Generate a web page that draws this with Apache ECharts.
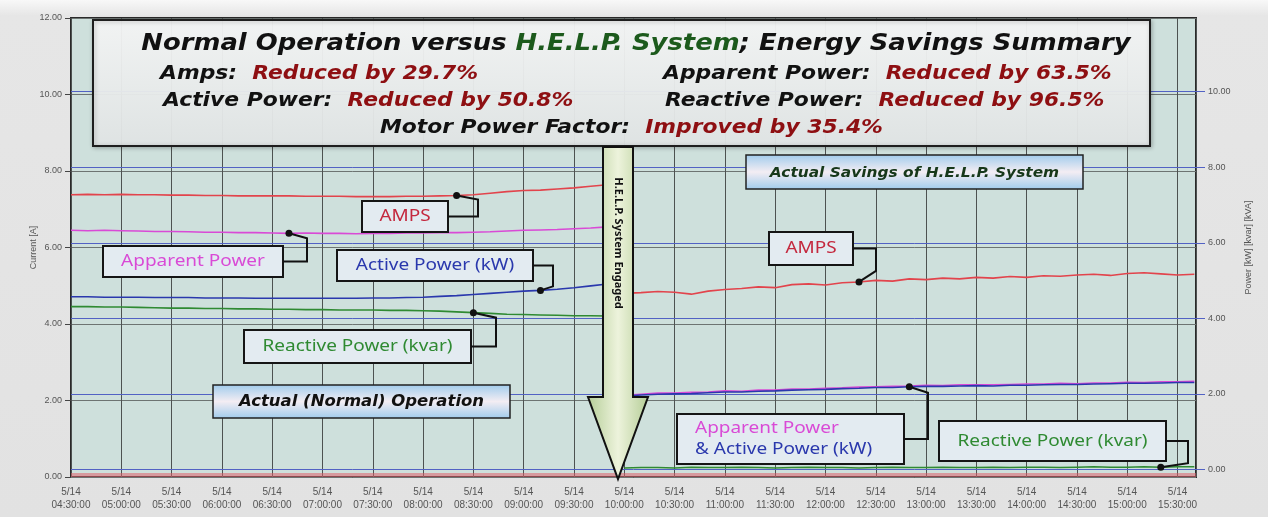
<!DOCTYPE html>
<html>
<head>
<meta charset="utf-8">
<title>H.E.L.P. System - Energy Savings</title>
<style>
  html, body { margin: 0; padding: 0; background: #e4e4e4; }
  #chart { width: 1268px; height: 517px; }
</style>
</head>
<body>
<div id="chart"></div>
<script src="https://cdn.jsdelivr.net/npm/echarts@6/dist/echarts.min.js"></script>
<script>
// samples every 10 minutes, 5/14
const beforeStart = '04:30';   // normal operation
const afterStart = '10:00';    // H.E.L.P. engaged
const stepMin = 10;

// Current [A] (left axis)
const ampsBefore = [7.38, 7.39, 7.38, 7.39, 7.38, 7.38, 7.37, 7.37, 7.36, 7.36,
  7.35, 7.35, 7.35, 7.35, 7.34, 7.34, 7.34, 7.33, 7.33, 7.33,
  7.34, 7.34, 7.35, 7.36, 7.38, 7.42, 7.46, 7.49, 7.50, 7.53,
  7.56, 7.60, 7.64];
const ampsAfter = [4.80, 4.82, 4.85, 4.83, 4.78, 4.86, 4.90, 4.93, 4.97, 4.95,
  5.03, 5.05, 5.02, 5.08, 5.10, 5.14, 5.12, 5.18, 5.16, 5.20,
  5.18, 5.22, 5.20, 5.24, 5.22, 5.26, 5.25, 5.28, 5.30, 5.27,
  5.32, 5.34, 5.31, 5.28, 5.30];

// Power [kW] [kvar] [kVA] (right axis)
const apparentBefore = [6.33, 6.32, 6.33, 6.32, 6.31, 6.30, 6.30, 6.29, 6.28, 6.28,
  6.27, 6.27, 6.26, 6.25, 6.26, 6.25, 6.25, 6.24, 6.25, 6.25,
  6.26, 6.26, 6.27, 6.27, 6.28, 6.29, 6.31, 6.33, 6.34, 6.35,
  6.37, 6.39, 6.42];
const activeBefore = [4.57, 4.57, 4.56, 4.56, 4.56, 4.55, 4.55, 4.55, 4.54, 4.54,
  4.54, 4.53, 4.53, 4.53, 4.53, 4.53, 4.53, 4.53, 4.54, 4.54,
  4.55, 4.56, 4.58, 4.60, 4.63, 4.66, 4.69, 4.72, 4.74, 4.77,
  4.81, 4.86, 4.91];
const reactiveBefore = [4.31, 4.31, 4.30, 4.30, 4.29, 4.28, 4.27, 4.27, 4.26, 4.26,
  4.25, 4.25, 4.24, 4.24, 4.23, 4.23, 4.22, 4.22, 4.22, 4.21,
  4.21, 4.20, 4.19, 4.17, 4.15, 4.13, 4.11, 4.10, 4.09, 4.08,
  4.07, 4.07, 4.06];
const apparentAfter = [1.96, 1.99, 2.02, 2.02, 2.04, 2.05, 2.08, 2.07, 2.10, 2.10,
  2.13, 2.13, 2.15, 2.16, 2.18, 2.19, 2.20, 2.21, 2.23, 2.22,
  2.24, 2.24, 2.24, 2.25, 2.26, 2.26, 2.28, 2.27, 2.29, 2.29,
  2.31, 2.30, 2.32, 2.32, 2.33];
const activeAfter = [1.94, 1.97, 1.99, 2.00, 2.01, 2.03, 2.05, 2.05, 2.07, 2.08,
  2.10, 2.11, 2.12, 2.14, 2.15, 2.17, 2.17, 2.19, 2.20, 2.20,
  2.21, 2.22, 2.21, 2.23, 2.23, 2.24, 2.25, 2.25, 2.26, 2.27,
  2.28, 2.28, 2.29, 2.30, 2.30];
const reactiveAfter = [0.04, 0.05, 0.05, 0.04, 0.06, 0.05, 0.05, 0.06, 0.05, 0.04,
  0.05, 0.06, 0.05, 0.05, 0.04, 0.05, 0.06, 0.05, 0.05, 0.06,
  0.05, 0.05, 0.06, 0.05, 0.06, 0.06, 0.05, 0.06, 0.07, 0.06,
  0.06, 0.07, 0.06, 0.07, 0.07];

const leftTicks = [0, 2, 4, 6, 8, 10, 12];
const rightTicks = [0, 2, 4, 6, 8, 10];

const savings = [
  ['Amps:', 'Reduced by 29.7%'],
  ['Apparent Power:', 'Reduced by 63.5%'],
  ['Active Power:', 'Reduced by 50.8%'],
  ['Reactive Power:', 'Reduced by 96.5%'],
  ['Motor Power Factor:', 'Improved by 35.4%']
];

// minutes since midnight
function mins(t) {
  const p = t.split(':');
  return +p[0] * 60 + +p[1];
}
function pair(start, vals) {
  const s = mins(start);
  return vals.map((v, i) => [s + i * stepMin, v]);
}
function hhmm(m) {
  const h = Math.floor(m / 60), mm = m % 60;
  return (h < 10 ? '0' : '') + h + ':' + (mm < 10 ? '0' : '') + mm;
}

const RED = '#e2444c', MAG = '#d94ad6', BLUE = '#2a38ad', GREEN = '#2f8a32';

function line(name, data, color, yIdx) {
  return {
    name: name, type: 'line', yAxisIndex: yIdx, data: data,
    showSymbol: false, symbol: 'none', silent: true,
    lineStyle: { color: color, width: 1.6 }, z: 5
  };
}

const series = [
  line('AMPS', pair(beforeStart, ampsBefore), RED, 0),
  line('AMPS after', pair(afterStart, ampsAfter), RED, 0),
  line('Apparent Power', pair(beforeStart, apparentBefore), MAG, 1),
  line('Active Power', pair(beforeStart, activeBefore), BLUE, 1),
  line('Reactive Power', pair(beforeStart, reactiveBefore), GREEN, 1),
  line('Apparent Power after', pair(afterStart, apparentAfter), MAG, 1),
  line('Active Power after', pair(afterStart, activeAfter), BLUE, 1),
  line('Reactive Power after', pair(afterStart, reactiveAfter), GREEN, 1)
];
// pink band along zero current
series[0].markLine = {
  silent: true, symbol: 'none', label: { show: false },
  lineStyle: { color: 'rgba(222,96,108,0.55)', width: 4, type: 'solid' },
  data: [{ yAxis: 0.07 }]
};
// blue gridlines of the power axis
series[7].markLine = {
  silent: true, symbol: 'none', label: { show: false },
  lineStyle: { color: '#5262c4', width: 1, type: 'solid' },
  data: rightTicks.map(v => ({ yAxis: v }))
};

const option = {
  animation: false,
  backgroundColor: {
    type: 'linear', x: 0, y: 0, x2: 0, y2: 1,
    colorStops: [{ offset: 0, color: '#f8f8f8' }, { offset: 0.03, color: '#e6e6e6' }, { offset: 1, color: '#e2e2e2' }]
  },
  grid: {
    left: 71, right: 72, top: 18, bottom: 40,
    show: true, backgroundColor: '#cee0dc', borderColor: '#2a2a2a', borderWidth: 2
  },
  xAxis: {
    type: 'value',
    min: mins('04:30'), max: mins('15:41'), interval: 30,
    axisLine: { show: false },
    axisTick: { show: false },
    axisLabel: {
      fontFamily: 'Liberation Sans Narrow, Liberation Sans, sans-serif',
      fontSize: 10, color: '#555', lineHeight: 13, margin: 9,
      showMaxLabel: false,
      formatter: v => '5/14\n' + hhmm(v) + ':00'
    },
    splitLine: { show: true, lineStyle: { color: '#4d5251', width: 1 } }
  },
  yAxis: [{
    type: 'value', min: 0, max: 12, interval: 2,
    name: 'Current [A]', nameLocation: 'middle', nameGap: 33, nameRotate: 90, nameMoveOverlap: false,
    nameTextStyle: { fontFamily: 'Liberation Sans', fontSize: 9, color: '#555' },
    axisLine: { show: false },
    axisTick: { show: true, length: 6, lineStyle: { color: '#444' } },
    axisLabel: { fontFamily: 'Liberation Sans', fontSize: 9, color: '#555', margin: 9,
      formatter: v => leftTicks.indexOf(v) >= 0 ? v.toFixed(2) : '' },
    splitLine: { show: true, lineStyle: { color: '#6d7472', width: 1 } }
  }, {
    type: 'value', min: -0.2, max: 11.95, position: 'right',
    name: 'Power [kW] [kvar] [kVA]', nameLocation: 'middle', nameGap: 48, nameRotate: 90,
    nameTextStyle: { fontFamily: 'Liberation Sans', fontSize: 9, color: '#555' },
    axisLine: { show: false },
    axisTick: { show: true, length: 9, customValues: rightTicks, lineStyle: { color: '#5262c4' } },
    axisLabel: { fontFamily: 'Liberation Sans', fontSize: 9, color: '#555', margin: 12,
      customValues: rightTicks, formatter: v => v.toFixed(2) },
    splitLine: { show: false }
  }],
  series: series
};

const chart = echarts.init(document.getElementById('chart'));
chart.setOption(option);

// ---------- annotations ----------
const FONT_T = 'DejaVu Sans, Verdana, sans-serif';
const FONT_C = 'Noto Sans, DejaVu Sans, sans-serif';
const SX = 1.12;   // the source picture is a little wide
const g = [];

// summary box
g.push({
  type: 'rect', z: 100, shape: { x: 93, y: 20, width: 1057, height: 126 },
  style: {
    fill: { type: 'linear', x: 0, y: 0, x2: 0, y2: 1,
      colorStops: [{ offset: 0, color: 'rgba(246,247,247,0.95)' }, { offset: 1, color: 'rgba(226,230,230,0.95)' }] },
    stroke: '#1e1e1e', lineWidth: 2,
    shadowBlur: 4, shadowColor: 'rgba(0,0,0,0.25)', shadowOffsetX: 1, shadowOffsetY: 1
  }
});
const richT = {
  k: { font: 'italic bold 23.5px ' + FONT_T, fill: '#111' },
  g: { font: 'italic bold 23.5px ' + FONT_T, fill: '#1c5a1c' },
  a: { font: 'italic bold 19.5px ' + FONT_T, fill: '#111' },
  r: { font: 'italic bold 19.5px ' + FONT_T, fill: '#8e0f12' }
};
g.push({ type: 'text', z: 101, x: 636, y: 44, scaleX: 1.1,
  style: { text: '{k|Normal Operation versus }{g|H.E.L.P. System}{k|; Energy Savings Summary}',
    rich: richT, align: 'center', verticalAlign: 'middle' } });
const rowPos = [[160, 74], [663, 74], [163, 101], [665, 101], [380, 128]];
savings.forEach((s, i) => {
  g.push({ type: 'text', z: 101, x: rowPos[i][0], y: rowPos[i][1], scaleX: SX,
    style: { text: '{a|' + s[0] + '  }{r|' + s[1] + '}', rich: richT, align: 'left', verticalAlign: 'middle' } });
});

// H.E.L.P. arrow
g.push({
  type: 'polygon', z: 102,
  shape: { points: [[603, 147], [633, 147], [633, 397], [648, 397], [618, 479], [588, 397], [603, 397]] },
  style: {
    fill: { type: 'linear', x: 0, y: 0, x2: 1, y2: 0,
      colorStops: [{ offset: 0, color: '#b4cd96' }, { offset: 0.5, color: '#edf3dc' }, { offset: 1, color: '#b4cd96' }] },
    stroke: '#111', lineWidth: 2
  }
});
g.push({ type: 'text', z: 103, x: 618, y: 243, rotation: -Math.PI / 2,
  style: { text: 'H.E.L.P. System Engaged', font: 'bold 11px ' + FONT_C, fill: '#111',
    align: 'center', verticalAlign: 'middle' } });

// banner boxes
function banner(x, y, w, h, text, color, size) {
  g.push({ type: 'rect', z: 100, shape: { x: x, y: y, width: w, height: h },
    style: { fill: { type: 'linear', x: 0, y: 0, x2: 0, y2: 1,
      colorStops: [{ offset: 0, color: '#9fcbec' }, { offset: 0.5, color: '#f3edf3' }, { offset: 1, color: '#9fcbec' }] },
      stroke: '#222', lineWidth: 1.5 } });
  g.push({ type: 'text', z: 101, x: x + w / 2, y: y + h / 2 + 1, scaleX: 1.1,
    style: { text: text, font: 'italic bold ' + size + 'px ' + FONT_T, fill: color, align: 'center', verticalAlign: 'middle' } });
}
banner(746, 155, 337, 34, 'Actual Savings of H.E.L.P. System', '#17381a', 14);
banner(213, 385, 297, 33, 'Actual (Normal) Operation', '#111', 15);

// callouts pointing at the lines
function anchor(start, vals, t, yIdx) {
  const i = (mins(t) - mins(start)) / stepMin;
  return chart.convertToPixel({ xAxisIndex: 0, yAxisIndex: yIdx }, [mins(t), vals[i]]);
}
function callout(box, lines, pt, elbowX, dy) {
  const [x, y, w, h] = box;
  g.push({ type: 'rect', z: 100, shape: { x: x, y: y, width: w, height: h },
    style: { fill: '#e3ebf1', stroke: '#151515', lineWidth: 2 } });
  lines.forEach((ln, i) => {
    const ty = y + h / 2 + (i - (lines.length - 1) / 2) * 21;
    g.push({ type: 'text', z: 101, x: ln.left ? x + ln.left : x + w / 2, y: ty, scaleX: 1.15,
      style: { text: ln.text, font: '16.5px ' + FONT_C, fill: ln.color,
        align: ln.left ? 'left' : 'center', verticalAlign: 'middle' } });
  });
  const by = y + h / 2;
  g.push({ type: 'polyline', z: 101,
    shape: { points: [[x + w, by], [elbowX, by], [elbowX, pt[1] + dy], pt] },
    style: { stroke: '#111', lineWidth: 2, fill: null } });
  g.push({ type: 'circle', z: 102, shape: { cx: pt[0], cy: pt[1], r: 3.5 }, style: { fill: '#111' } });
}

callout([362, 201, 86, 31], [{ text: 'AMPS', color: '#c4283e' }],
  anchor(beforeStart, ampsBefore, '08:20', 0), 478, 4);
callout([103, 246, 180, 31], [{ text: 'Apparent Power', color: MAG }],
  anchor(beforeStart, apparentBefore, '06:40', 1), 307, 5);
callout([337, 250, 196, 31], [{ text: 'Active Power (kW)', color: BLUE }],
  anchor(beforeStart, activeBefore, '09:10', 1), 553, -4);
callout([244, 330, 227, 33], [{ text: 'Reactive Power (kvar)', color: GREEN }],
  anchor(beforeStart, reactiveBefore, '08:30', 1), 496, 5);
callout([769, 232, 84, 33], [{ text: 'AMPS', color: '#c4283e' }],
  anchor(afterStart, ampsAfter, '12:20', 0), 876, -11);
callout([677, 414, 227, 50], [{ text: 'Apparent Power', color: MAG, left: 18 },
  { text: '& Active Power (kW)', color: BLUE, left: 18 }],
  anchor(afterStart, activeAfter, '12:50', 1), 928, 6);
callout([939, 421, 227, 40], [{ text: 'Reactive Power (kvar)', color: GREEN }],
  anchor(afterStart, reactiveAfter, '15:20', 1), 1188, -4);

chart.setOption({ graphic: { elements: g } });
</script>
</body>
</html>
